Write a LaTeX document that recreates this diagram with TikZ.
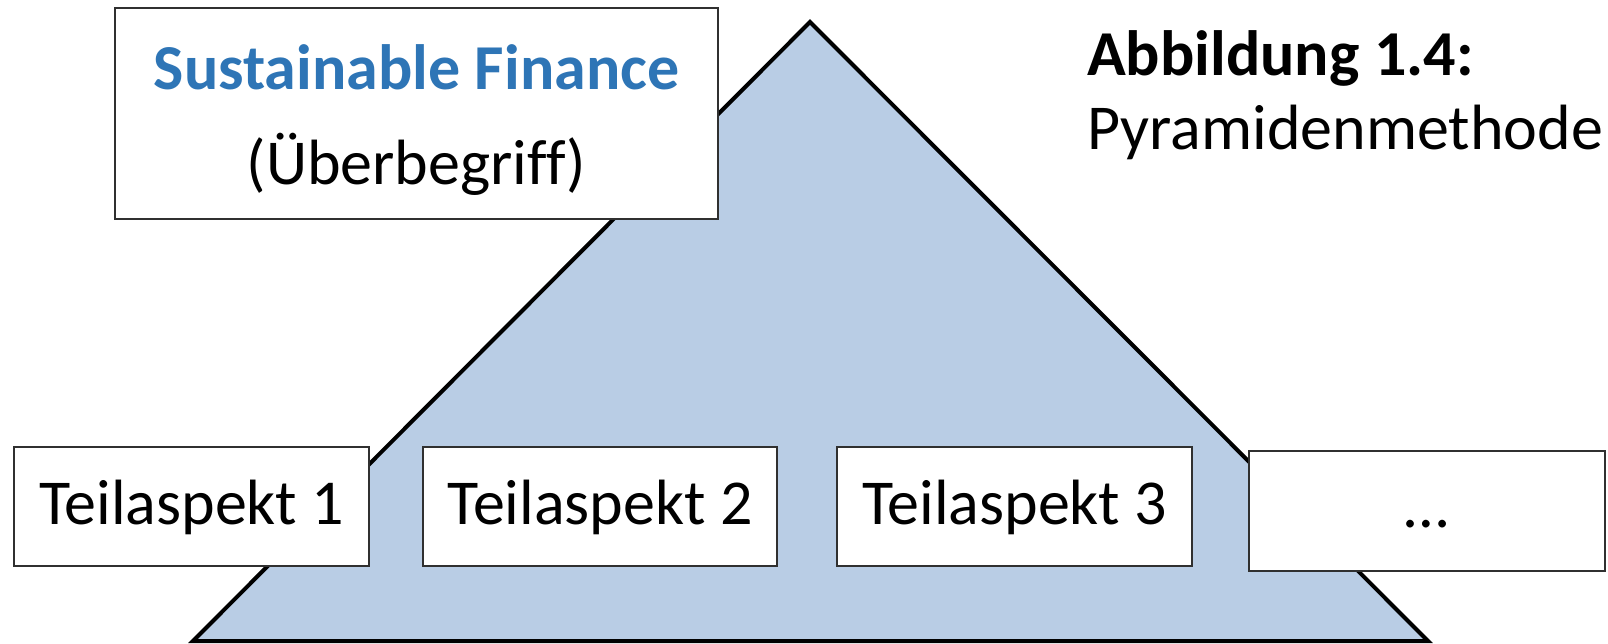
\documentclass[tikz,border=0pt]{standalone}
\usepackage{fontspec}
\setmainfont{Carlito}[Ligatures=NoCommon]
\definecolor{pyrfill}{HTML}{B9CDE5}
\definecolor{titleblue}{HTML}{2E75B6}
\definecolor{boxline}{HTML}{303030}
\begin{document}
\begin{tikzpicture}[x=1pt,y=-1pt,
  box/.style={draw=boxline,line width=1.6pt,fill=white},
  txt/.style={inner sep=0pt,anchor=base,font=\fontsize{64}{70}\selectfont},
  btxt/.style={inner sep=0pt,anchor=base,font=\fontsize{64}{70}\selectfont\bfseries}]
\useasboundingbox (0,0) rectangle (1608,643);
% pyramid
\coordinate (apex) at (810,22);
\coordinate (bl) at (193,641);
\coordinate (br) at (1428,641);
\draw[fill=pyrfill,line width=4pt,line join=miter] (apex) -- (br) -- (bl) -- cycle;
% top box
\draw[box] (115,8) rectangle (718,219);
\node[btxt,text=titleblue] (sf) at (416.5,89) {Sustainable Finance};
\node[txt] (ub) at (416.5,184) {(Überbegriff)};
% bottom boxes
\draw[box] (14,447) rectangle (369,566);
\node[txt] (t1) at (191.5,524) {Teilaspekt 1};
\draw[box] (423,447) rectangle (777,566);
\node[txt] (t2) at (600,524) {Teilaspekt 2};
\draw[box] (837,447) rectangle (1192,566);
\node[txt] (t3) at (1014.5,524) {Teilaspekt 3};
\draw[box] (1249,451) rectangle (1605,571);
\node[txt] (t4) at (1427,527) {…};
% caption
\node[btxt,anchor=base west] (cap1) at (1087,75) {Abbildung 1.4:};
\node[txt,anchor=base west] (cap2) at (1087,149) {Pyramidenmethode};
\end{tikzpicture}
\end{document}
